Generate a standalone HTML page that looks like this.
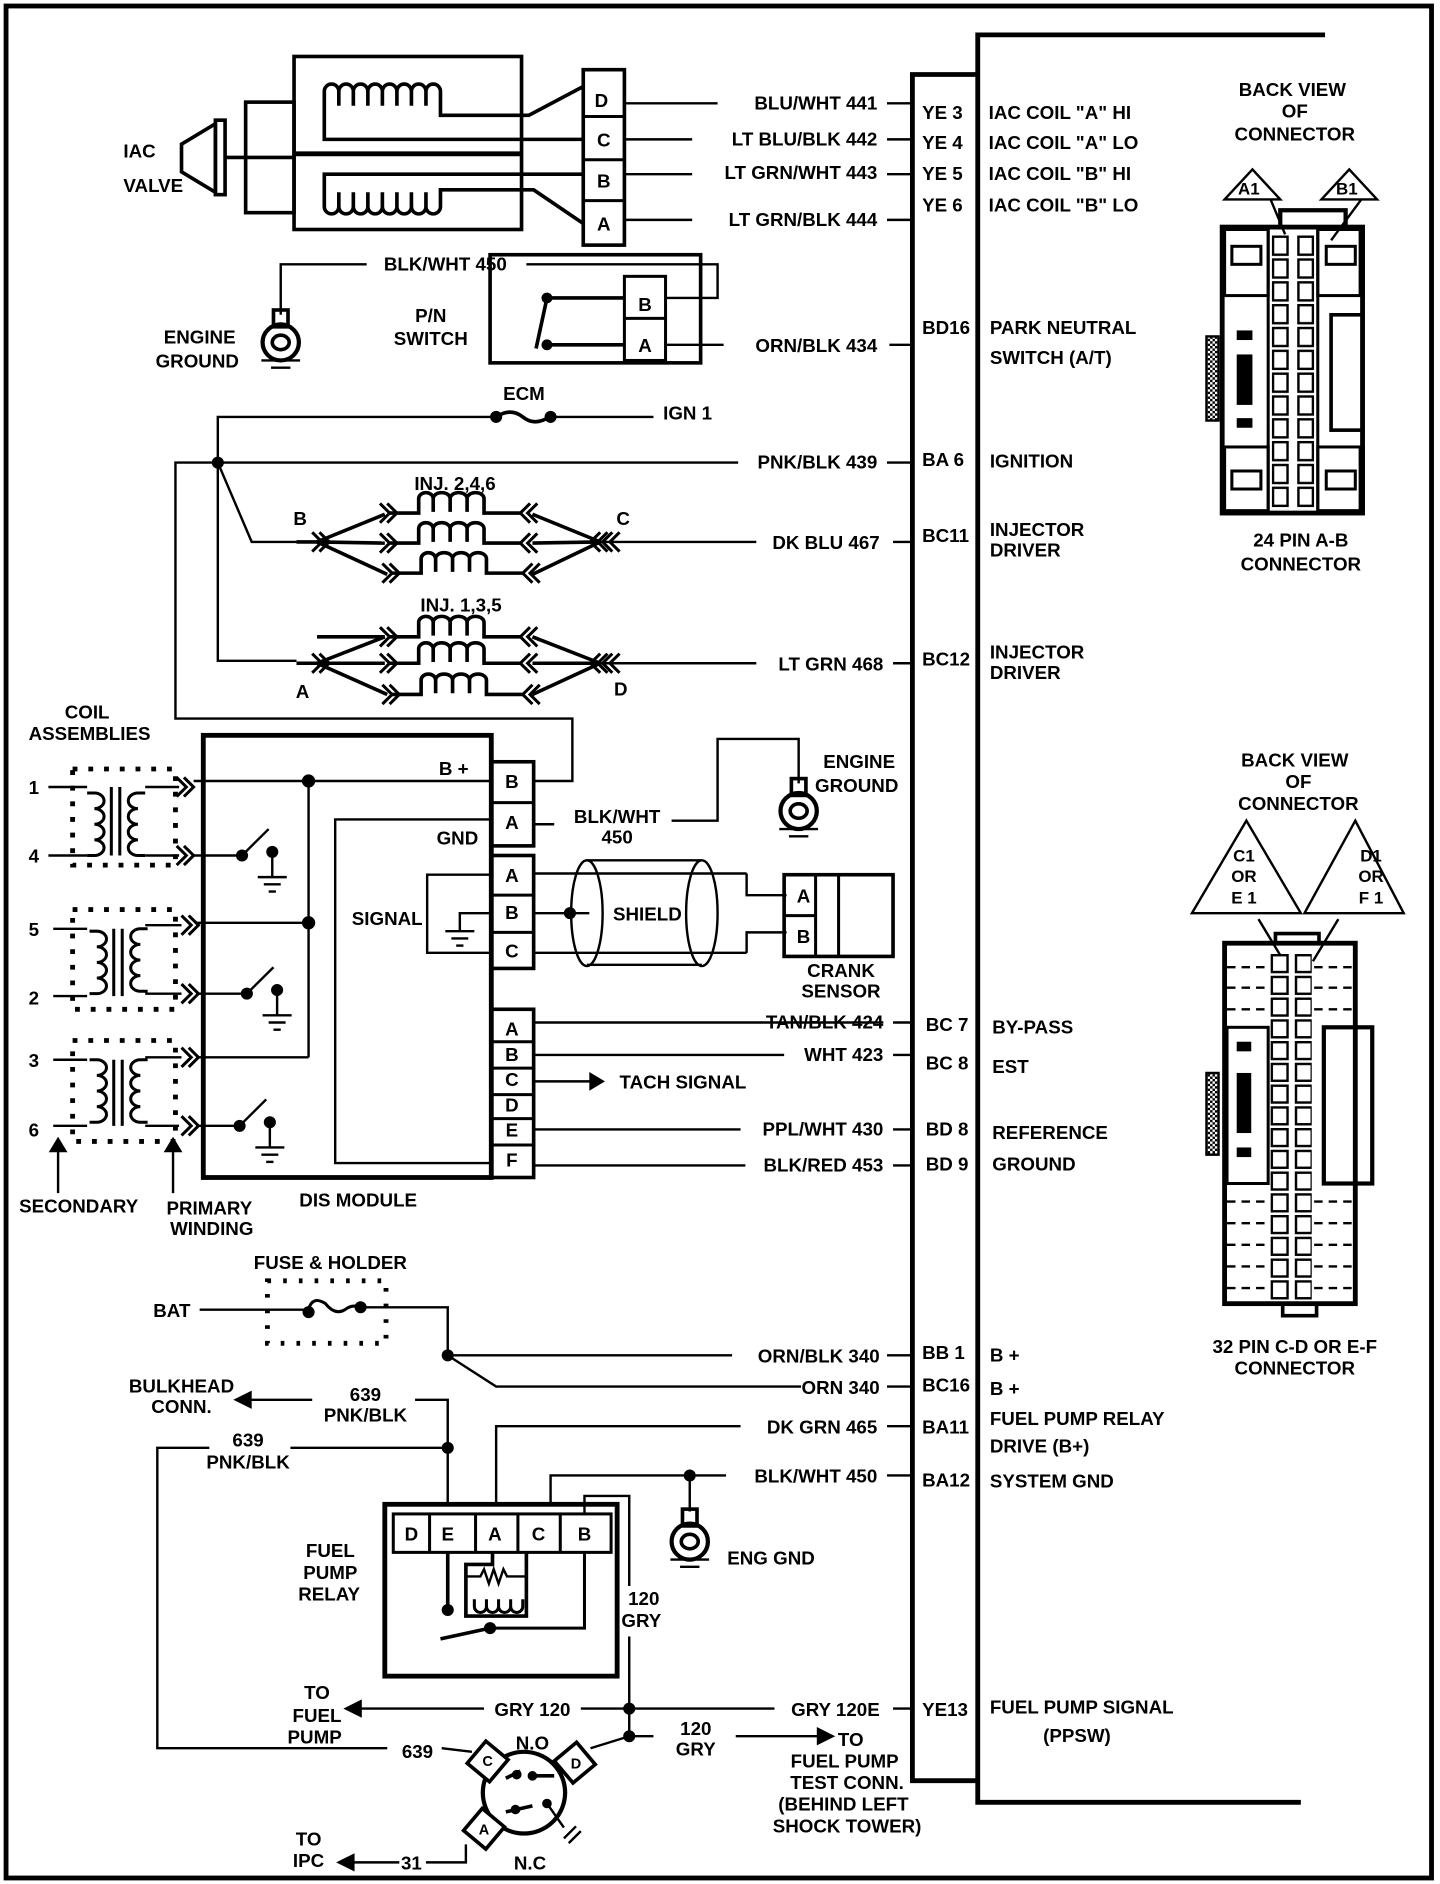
<!DOCTYPE html>
<html><head><meta charset="utf-8"><style>
html,body{margin:0;padding:0;background:#fff}
svg{display:block}
text{font-family:"Liberation Sans",sans-serif;font-weight:bold;font-size:15.5px;fill:#000}
.e{text-anchor:end}.m{text-anchor:middle}
</style></head><body>
<svg width="1440" height="1884" viewBox="0 0 1190 1568" preserveAspectRatio="none" xmlns="http://www.w3.org/2000/svg">
<defs>
<path id="vR" d="M0,0 h6 a8,6.5 0 0 1 0,13 a8,6.5 0 0 1 0,13 a8,6.5 0 0 1 0,13 a8,6.5 0 0 1 0,13 h-6" fill="none" stroke="#000" stroke-width="2.5"/>
<path id="vL" d="M0,0 h-6 a8,6.5 0 0 0 0,13 a8,6.5 0 0 0 0,13 a8,6.5 0 0 0 0,13 a8,6.5 0 0 0 0,13 h6" fill="none" stroke="#000" stroke-width="2.5"/>
<path id="inj" d="M0,0 h24 v-12 a6,5 0 0 1 12,0 v11 M36,-12 a7,5 0 0 1 14,0 v11 M50,-12 a7,5 0 0 1 14,0 v11 M64,-12 a7,5 0 0 1 14,0 v12 h30" fill="none" stroke="#000" stroke-width="3"/>
<path id="chR" d="M-8,-8 l8,8 l-8,8 M-2,-8 l8,8 l-8,8" fill="none" stroke="#000" stroke-width="2.5"/>
<path id="chL" d="M8,-8 l-8,8 l8,8 M2,-8 l-8,8 l8,8" fill="none" stroke="#000" stroke-width="2.5"/>
<g id="gnd" stroke="#000" stroke-width="2" fill="none"><line x1="-12" y1="0" x2="12" y2="0"/><line x1="-7" y1="6" x2="7" y2="6"/><line x1="-3" y1="12" x2="3" y2="12"/></g>
<g id="sw" stroke="#000" stroke-width="2" fill="none"><circle cx="0" cy="0" r="4" fill="#000"/><line x1="0" y1="0" x2="22" y2="-22"/><circle cx="25" cy="-3" r="4" fill="#000"/><line x1="25" y1="-3" x2="25" y2="18"/><use href="#gnd" x="25" y="18"/></g>
<g id="eg" stroke="#000" fill="none"><rect x="-6" y="-22" width="12" height="14" stroke-width="3"/><circle cx="0" cy="5" r="15" stroke-width="3.5"/><ellipse cx="0" cy="5" rx="7" ry="6" stroke-width="3"/><line x1="-16" y1="20" x2="16" y2="20" stroke-width="2"/><line x1="-8" y1="26" x2="8" y2="26" stroke-width="2"/></g>
<pattern id="p1" x="1051" y="196" width="21" height="19" patternUnits="userSpaceOnUse"><rect x="1" y="1" width="12" height="15" fill="#fff" stroke="#000" stroke-width="2"/></pattern>
<pattern id="p2" x="1050" y="794" width="20" height="18.1" patternUnits="userSpaceOnUse"><rect x="1" y="1" width="13" height="14" fill="#fff" stroke="#000" stroke-width="2"/></pattern>
<pattern id="hatch" width="4" height="4" patternUnits="userSpaceOnUse"><rect width="4" height="4" fill="#fff"/><rect width="2" height="2" fill="#000"/><rect x="2" y="2" width="2" height="2" fill="#000"/></pattern>
</defs>

<g fill="none" stroke="#000" stroke-width="2">
<rect x="5" y="5" width="1178" height="1558" stroke-width="4"/>
<polyline points="1095,29 808,29 808,1500 1075,1500" stroke-width="4"/>
<polyline points="808,62 754,62 754,1482 808,1482" stroke-width="4"/>

<!-- IAC valve -->
<polygon points="150,120 178,103 178,160 150,143" stroke-width="3"/>
<rect x="178" y="100" width="8" height="62" stroke-width="3"/>
<line x1="186" y1="131" x2="243" y2="131" stroke-width="3"/>
<rect x="203" y="85" width="40" height="92" stroke-width="3"/>
<rect x="243" y="47" width="188" height="144" stroke-width="3"/>
<line x1="243" y1="128" x2="431" y2="128" stroke-width="4"/>
<path d="M482,116 H268 V88 v-12 a6,6 0 0 1 12,0 v12 m0,-12 a6,6 0 0 1 12,0 v12 m0,-12 a6,6 0 0 1 12,0 v12 m0,-12 a6,6 0 0 1 12,0 v12 m0,-12 a6,6 0 0 1 12,0 v12 m0,-12 a6,6 0 0 1 12,0 v12 m0,-12 a6,6 0 0 1 12,0 v12 m0,-12 a6,6 0 0 1 12,0 v20 H437 L482,72" stroke-width="3"/>
<path d="M482,145 H268 V172 m0,-12 v12 a6,6 0 0 0 12,0 v-12 m0,12 a6,6 0 0 0 12,0 v-12 m0,12 a6,6 0 0 0 12,0 v-12 m0,12 a6,6 0 0 0 12,0 v-12 m0,12 a6,6 0 0 0 12,0 v-12 m0,12 a6,6 0 0 0 12,0 v-12 m0,12 a6,6 0 0 0 12,0 v-12 m0,12 a6,6 0 0 0 12,0 V158 H441 L482,186" stroke-width="3"/>
<rect x="482" y="58" width="34" height="146" stroke-width="3"/>
<line x1="482" y1="97" x2="516" y2="97" stroke-width="2.5"/>
<line x1="482" y1="133" x2="516" y2="133" stroke-width="2.5"/>
<line x1="482" y1="167" x2="516" y2="167" stroke-width="2.5"/>
<line x1="516" y1="86" x2="593" y2="86"/>
<line x1="516" y1="116" x2="572" y2="116"/>
<line x1="516" y1="145" x2="572" y2="145"/>
<line x1="516" y1="183" x2="572" y2="183"/>
<line x1="733" y1="86" x2="754" y2="86"/>
<line x1="733" y1="116" x2="754" y2="116"/>
<line x1="733" y1="145" x2="754" y2="145"/>
<line x1="733" y1="183" x2="754" y2="183"/>

<!-- P/N switch -->
<polyline points="232,262 232,220 303,220"/>
<polyline points="435,220 593,220 593,248 550,248"/>
<rect x="405" y="212" width="174" height="90" stroke-width="3"/>
<rect x="516" y="230" width="34" height="70" stroke-width="2.5"/>
<line x1="516" y1="265" x2="550" y2="265" stroke-width="2.5"/>
<line x1="452" y1="248" x2="516" y2="248" stroke-width="3"/>
<line x1="452" y1="287" x2="516" y2="287" stroke-width="3"/>
<line x1="452" y1="248" x2="443" y2="290" stroke-width="3"/>
<circle cx="452" cy="248" r="3.5" fill="#000"/>
<circle cx="452" cy="287" r="3.5" fill="#000"/>
<line x1="550" y1="287" x2="598" y2="287"/>
<line x1="735" y1="287" x2="754" y2="287"/>

<!-- ECM fuse & ignition -->
<polyline points="410,347 180,347 180,550 245,550"/>
<path d="M410,347 q12,-8 22,0 t22,0" stroke-width="3"/>
<circle cx="410" cy="347" r="4" fill="#000"/><circle cx="455" cy="347" r="4" fill="#000"/>
<line x1="455" y1="347" x2="540" y2="347"/>
<line x1="180" y1="385" x2="610" y2="385"/>
<line x1="733" y1="385" x2="754" y2="385"/>
<circle cx="180" cy="385" r="4" fill="#000"/>
<polyline points="180,385 208,451 245,451"/>
<polyline points="180,385 145,385 145,598 473,598 473,650 440,650"/>

<g stroke-width="3">
<line x1="262" y1="451" x2="318" y2="428"/><line x1="262" y1="451" x2="318" y2="452"/><line x1="262" y1="451" x2="320" y2="478"/>
<line x1="496" y1="451" x2="440" y2="428"/><line x1="496" y1="451" x2="440" y2="452"/><line x1="496" y1="451" x2="440" y2="478"/>
<line x1="262" y1="530" x2="318" y2="530"/>
<line x1="262" y1="552" x2="318" y2="530"/><line x1="262" y1="552" x2="318" y2="552"/><line x1="262" y1="552" x2="320" y2="578"/>
<line x1="496" y1="552" x2="440" y2="530"/><line x1="496" y1="552" x2="440" y2="552"/><line x1="496" y1="552" x2="440" y2="578"/>
</g>
<line x1="245" y1="451" x2="262" y2="451" stroke-width="3"/>
<line x1="245" y1="552" x2="262" y2="552" stroke-width="3"/>
<line x1="496" y1="451" x2="625" y2="451"/>
<line x1="496" y1="552" x2="625" y2="552"/>
<line x1="738" y1="451" x2="754" y2="451"/>
<line x1="738" y1="552" x2="754" y2="552"/>
</g>
<use href="#inj" x="322" y="427"/><use href="#inj" x="322" y="452"/><use href="#inj" x="324" y="477"/>
<use href="#inj" x="322" y="530"/><use href="#inj" x="322" y="552"/><use href="#inj" x="324" y="578"/>
<use href="#chR" x="322" y="427"/><use href="#chR" x="322" y="452"/><use href="#chR" x="324" y="477"/>
<use href="#chL" x="436" y="427"/><use href="#chL" x="436" y="452"/><use href="#chL" x="438" y="477"/>
<use href="#chR" x="322" y="530"/><use href="#chR" x="322" y="552"/><use href="#chR" x="324" y="578"/>
<use href="#chL" x="436" y="530"/><use href="#chL" x="436" y="552"/><use href="#chL" x="438" y="578"/>
<use href="#chR" x="266" y="451"/><use href="#chL" x="494" y="451"/><use href="#chL" x="504" y="451"/>
<use href="#chR" x="266" y="552"/><use href="#chL" x="494" y="552"/><use href="#chL" x="504" y="552"/>

<g fill="none" stroke="#000" stroke-width="2">
<g stroke-dasharray="4,9" stroke-width="4">
<rect x="60" y="640" width="85" height="80"/>
<rect x="60" y="757" width="85" height="83"/>
<rect x="60" y="866" width="85" height="84"/>
</g>
<line x1="40" y1="655" x2="72" y2="655"/><line x1="40" y1="712" x2="72" y2="712"/>
<line x1="44" y1="773" x2="72" y2="773"/><line x1="44" y1="829" x2="72" y2="829"/>
<line x1="44" y1="882" x2="72" y2="882"/><line x1="44" y1="937" x2="72" y2="937"/>
<g stroke-width="2.5">
<line x1="92" y1="655" x2="92" y2="712"/><line x1="99" y1="655" x2="99" y2="712"/>
<line x1="94" y1="773" x2="94" y2="829"/><line x1="101" y1="773" x2="101" y2="829"/>
<line x1="94" y1="882" x2="94" y2="937"/><line x1="101" y1="882" x2="101" y2="937"/>
</g>
<line x1="120" y1="655" x2="148" y2="655"/><line x1="120" y1="712" x2="148" y2="712"/>
<line x1="120" y1="770" x2="150" y2="770"/><line x1="120" y1="827" x2="150" y2="827"/>
<line x1="120" y1="880" x2="150" y2="880"/><line x1="120" y1="937" x2="148" y2="937"/>
</g>
<use href="#vR" x="72" y="660"/><use href="#vL" x="120" y="660"/>
<use href="#vR" x="74" y="775"/><use href="#vL" x="122" y="773"/>
<use href="#vR" x="74" y="882"/><use href="#vL" x="122" y="882"/>
<use href="#chR" x="154" y="655"/><use href="#chR" x="154" y="712"/>
<use href="#chR" x="158" y="770"/><use href="#chR" x="158" y="827"/>
<use href="#chR" x="158" y="880"/><use href="#chR" x="158" y="937"/>

<g fill="none" stroke="#000" stroke-width="2">
<line x1="48" y1="993" x2="48" y2="955"/><polygon points="42,958 48,948 54,958" fill="#000"/>
<line x1="143" y1="993" x2="143" y2="955"/><polygon points="137,958 143,948 149,958" fill="#000"/>

<rect x="168" y="612" width="238" height="368" stroke-width="4"/>
<line x1="160" y1="650" x2="406" y2="650"/>
<line x1="255" y1="650" x2="255" y2="880"/>
<circle cx="255" cy="650" r="4.5" fill="#000"/><circle cx="255" cy="768" r="4.5" fill="#000"/>
<line x1="162" y1="768" x2="255" y2="768"/>
<line x1="162" y1="880" x2="255" y2="880"/>
<line x1="160" y1="712" x2="200" y2="712"/>
<line x1="162" y1="827" x2="204" y2="827"/>
<line x1="162" y1="937" x2="198" y2="937"/>
<polyline points="406,682 277,682 277,968 406,968"/>
<polyline points="406,728 353,728 353,793 406,793"/>
<polyline points="406,760 380,760 380,775"/>
</g>
<use href="#sw" x="200" y="712"/><use href="#sw" x="204" y="827"/><use href="#sw" x="198" y="937"/>
<use href="#gnd" x="380" y="775"/>

<g fill="none" stroke="#000" stroke-width="2">
<rect x="406" y="634" width="35" height="70" stroke-width="3"/><line x1="406" y1="668" x2="441" y2="668" stroke-width="2.5"/>
<rect x="406" y="712" width="35" height="94" stroke-width="3"/><line x1="406" y1="745" x2="441" y2="745" stroke-width="2.5"/><line x1="406" y1="776" x2="441" y2="776" stroke-width="2.5"/>
<rect x="406" y="840" width="35" height="140" stroke-width="3"/>
<line x1="406" y1="867" x2="441" y2="867" stroke-width="2.5"/><line x1="406" y1="889" x2="441" y2="889" stroke-width="2.5"/><line x1="406" y1="911" x2="441" y2="911" stroke-width="2.5"/><line x1="406" y1="931" x2="441" y2="931" stroke-width="2.5"/><line x1="406" y1="953" x2="441" y2="953" stroke-width="2.5"/>
<line x1="441" y1="686" x2="458" y2="686"/>
<polyline points="555,683 593,683 593,615 660,615 660,652"/>
<line x1="441" y1="727" x2="617" y2="727"/>
<line x1="441" y1="793" x2="617" y2="793"/>
<polyline points="617,727 617,745 650,745"/>
<polyline points="617,793 617,776 650,776"/>
<line x1="441" y1="760" x2="487" y2="760"/>
<circle cx="471" cy="760" r="4" fill="#000"/>
<path d="M485,716 H580 M485,803 H580"/>
<ellipse cx="485" cy="760" rx="13" ry="44"/>
<ellipse cx="580" cy="760" rx="13" ry="44"/>
<rect x="648" y="728" width="90" height="68" stroke-width="3"/>
<line x1="674" y1="728" x2="674" y2="796" stroke-width="2.5"/>
<line x1="693" y1="728" x2="693" y2="796" stroke-width="2.5"/>
<line x1="648" y1="762" x2="674" y2="762" stroke-width="2.5"/>
<line x1="441" y1="851" x2="730" y2="851"/>
<line x1="441" y1="878" x2="648" y2="878"/>
<line x1="441" y1="900" x2="490" y2="900"/><polygon points="488,894 498,900 488,906" fill="#000"/>
<line x1="441" y1="940" x2="612" y2="940"/>
<line x1="441" y1="970" x2="616" y2="970"/>
<line x1="738" y1="851" x2="754" y2="851"/><line x1="738" y1="878" x2="754" y2="878"/>
<line x1="738" y1="940" x2="754" y2="940"/><line x1="738" y1="970" x2="754" y2="970"/>

<rect x="221" y="1066" width="98" height="52" stroke-dasharray="3,10" stroke-width="4"/>
<line x1="165" y1="1090" x2="255" y2="1090"/>
<path d="M255,1090 q3,-12 14,-5 q8,10 16,5 q8,-6 14,0" stroke-width="2.5"/>
<circle cx="255" cy="1092" r="4" fill="#000"/><circle cx="298" cy="1088" r="4" fill="#000"/>
<polyline points="298,1088 370,1088 370,1128 605,1128"/>
<circle cx="370" cy="1128" r="4" fill="#000"/>
<polyline points="370,1128 410,1154 662,1154"/>
<line x1="733" y1="1128" x2="754" y2="1128"/><line x1="733" y1="1154" x2="754" y2="1154"/>
<line x1="197" y1="1165" x2="258" y2="1165"/><polygon points="207,1159 195,1165 207,1171" fill="#000"/>
<polyline points="343,1165 370,1165 370,1252"/>
<polyline points="173,1205 130,1205 130,1455 320,1455"/>
<line x1="240" y1="1205" x2="370" y2="1205"/><circle cx="370" cy="1205" r="4" fill="#000"/>
<polyline points="410,1252 410,1187 612,1187"/>
<line x1="733" y1="1187" x2="754" y2="1187"/>
<polyline points="455,1252 455,1228 600,1228"/>
<circle cx="570" cy="1228" r="4" fill="#000"/>
<line x1="570" y1="1228" x2="570" y2="1258"/>
<line x1="733" y1="1228" x2="754" y2="1228"/>

<rect x="318" y="1252" width="192" height="143" stroke-width="4"/>
<rect x="325" y="1260" width="180" height="32" stroke-width="2.5"/>
<line x1="355" y1="1260" x2="355" y2="1292" stroke-width="2.5"/>
<line x1="393" y1="1260" x2="393" y2="1292" stroke-width="2.5"/>
<line x1="428" y1="1260" x2="428" y2="1292" stroke-width="2.5"/>
<line x1="463" y1="1260" x2="463" y2="1292" stroke-width="2.5"/>
<line x1="370" y1="1292" x2="370" y2="1340" stroke-width="3"/>
<circle cx="370" cy="1340" r="4" fill="#000"/>
<polyline points="407,1292 407,1302 385,1302 385,1345 435,1345 435,1292" stroke-width="3"/>
<path d="M385,1312 h12 l3,-6 l4,12 l4,-12 l4,12 l4,-12 l3,6 h16" stroke-width="2"/>
<path d="M392,1331 v6 a5,5 0 0 0 10,0 v-6 M402,1337 a5,5 0 0 0 10,0 v-6 M412,1337 a5,5 0 0 0 10,0 v-6 M422,1337 a5,5 0 0 0 10,0 v-6" stroke-width="2.5"/>
<polyline points="483,1292 483,1355 405,1355" stroke-width="2.5"/>
<line x1="405" y1="1355" x2="364" y2="1364" stroke-width="3"/>
<circle cx="405" cy="1355" r="4" fill="#000"/>
<polyline points="483,1260 483,1245 520,1245 520,1320"/>
<line x1="520" y1="1362" x2="520" y2="1445"/>
<circle cx="520" cy="1422" r="4" fill="#000"/><circle cx="520" cy="1445" r="4" fill="#000"/>
<line x1="520" y1="1422" x2="640" y2="1422"/>
<line x1="738" y1="1422" x2="754" y2="1422"/>
<line x1="520" y1="1422" x2="480" y2="1422"/>
<line x1="400" y1="1422" x2="290" y2="1422"/><polygon points="298,1416 286,1422 298,1428" fill="#000"/>
<line x1="520" y1="1445" x2="540" y2="1445"/>
<line x1="608" y1="1445" x2="682" y2="1445"/><polygon points="676,1439 688,1445 676,1451" fill="#000"/>
<line x1="520" y1="1445" x2="488" y2="1455"/>
<line x1="365" y1="1455" x2="390" y2="1458"/>
<circle cx="433" cy="1492" r="34" stroke-width="3.5"/>
<rect x="-12" y="-12" width="24" height="24" transform="translate(403,1466) rotate(40)" fill="#fff" stroke-width="3"/>
<rect x="-12" y="-12" width="24" height="24" transform="translate(475,1467) rotate(-40)" fill="#fff" stroke-width="3"/>
<rect x="-12" y="-12" width="24" height="24" transform="translate(400,1522) rotate(40)" fill="#fff" stroke-width="3"/>
<path d="M418,1480 l12,-6 M440,1478 h18 M418,1508 l22,-5" stroke-width="3"/>
<circle cx="427" cy="1477" r="3" fill="#000"/><circle cx="440" cy="1478" r="3" fill="#000"/>
<circle cx="426" cy="1506" r="3" fill="#000"/><circle cx="452" cy="1501" r="3" fill="#000"/>
<path d="M452,1501 l14,20 M466,1530 l10,-10 M470,1534 l10,-10" stroke-width="2"/>
<polyline points="352,1550 385,1550 385,1535"/>
<line x1="330" y1="1550" x2="285" y2="1550"/><polygon points="292,1544 280,1550 292,1556" fill="#000"/>

<polygon points="1035,141 1012,166 1058,166"/>
<polygon points="1115,141 1092,166 1138,166"/>
<line x1="1050" y1="166" x2="1062" y2="195"/><line x1="1125" y1="166" x2="1100" y2="200"/>
<rect x="1010" y="189" width="116" height="238" stroke-width="4"/>
<polyline points="1058,189 1058,175 1112,175 1112,189" stroke-width="3.5"/>
<rect x="1051" y="196" width="35" height="228" fill="url(#p1)" stroke="none"/>
<line x1="1048" y1="189" x2="1048" y2="427" stroke-width="2.5"/><line x1="1089" y1="189" x2="1089" y2="427" stroke-width="2.5"/>
<rect x="1012" y="191" width="36" height="55" stroke-width="2.5"/><rect x="1089" y="191" width="35" height="55" stroke-width="2.5"/>
<rect x="1012" y="372" width="36" height="53" stroke-width="2.5"/><rect x="1089" y="372" width="35" height="53" stroke-width="2.5"/>
<rect x="1018" y="205" width="24" height="15" stroke-width="2.5"/><rect x="1096" y="205" width="24" height="15" stroke-width="2.5"/>
<rect x="1018" y="392" width="24" height="15" stroke-width="2.5"/><rect x="1096" y="392" width="24" height="15" stroke-width="2.5"/>
<rect x="1100" y="262" width="26" height="96" stroke-width="3"/>
<rect x="997" y="280" width="10" height="70" fill="url(#hatch)" stroke-width="2"/>
<rect x="1022" y="275" width="13" height="8" fill="#000" stroke="none"/>
<rect x="1022" y="295" width="13" height="42" fill="#000" stroke="none"/>
<rect x="1022" y="348" width="13" height="8" fill="#000" stroke="none"/>

<polygon points="1030,683 985,760 1075,760"/>
<polygon points="1120,683 1078,760 1160,760"/>
<line x1="1040" y1="765" x2="1058" y2="795"/><line x1="1106" y1="765" x2="1085" y2="800"/>
<rect x="1012" y="785" width="108" height="300" stroke-width="4"/>
<polyline points="1054,785 1054,777 1090,777 1090,785" stroke-width="3"/>
<rect x="1050" y="794" width="34" height="290" fill="url(#p2)" stroke="none"/>
<rect x="1014" y="855" width="34" height="130" stroke-width="2.5"/>
<rect x="1094" y="855" width="40" height="130" stroke-width="3.5"/>
<rect x="997" y="893" width="10" height="68" fill="url(#hatch)" stroke-width="2"/>
<rect x="1022" y="867" width="12" height="8" fill="#000" stroke="none"/>
<rect x="1022" y="893" width="12" height="50" fill="#000" stroke="none"/>
<rect x="1022" y="955" width="12" height="8" fill="#000" stroke="none"/>
<g stroke-dasharray="7,5">
<line x1="1014" y1="805" x2="1048" y2="805"/><line x1="1014" y1="822" x2="1048" y2="822"/><line x1="1014" y1="840" x2="1048" y2="840"/>
<line x1="1086" y1="805" x2="1118" y2="805"/><line x1="1086" y1="822" x2="1118" y2="822"/><line x1="1086" y1="840" x2="1118" y2="840"/>
<line x1="1014" y1="1000" x2="1048" y2="1000"/><line x1="1014" y1="1018" x2="1048" y2="1018"/><line x1="1014" y1="1036" x2="1048" y2="1036"/><line x1="1014" y1="1054" x2="1048" y2="1054"/><line x1="1014" y1="1072" x2="1048" y2="1072"/>
<line x1="1086" y1="1000" x2="1118" y2="1000"/><line x1="1086" y1="1018" x2="1118" y2="1018"/><line x1="1086" y1="1036" x2="1118" y2="1036"/><line x1="1086" y1="1054" x2="1118" y2="1054"/><line x1="1086" y1="1072" x2="1118" y2="1072"/>
</g>
<polyline points="1060,1085 1060,1095 1088,1095 1088,1085" stroke-width="3"/>
</g>
<use href="#eg" x="232" y="280"/>
<use href="#eg" x="660" y="670"/>
<use href="#eg" x="570" y="1278"/>

<text x="102" y="131">IAC</text>
<text x="102" y="160">VALVE</text>
<text x="725" y="91" class="e">BLU/WHT  441</text>
<text x="725" y="121" class="e">LT BLU/BLK  442</text>
<text x="725" y="149" class="e">LT GRN/WHT 443</text>
<text x="725" y="188" class="e">LT GRN/BLK  444</text>
<text x="497" y="89" class="m">D</text><text x="499" y="122" class="m">C</text><text x="499" y="156" class="m">B</text><text x="499" y="192" class="m">A</text>
<text x="762" y="99">YE 3</text><text x="762" y="124">YE 4</text><text x="762" y="150">YE 5</text><text x="762" y="176">YE 6</text>
<text x="817" y="99">IAC COIL "A" HI</text><text x="817" y="124">IAC COIL "A" LO</text>
<text x="817" y="150">IAC COIL "B" HI</text><text x="817" y="176">IAC COIL "B" LO</text>
<text x="1068" y="80" class="m">BACK VIEW</text><text x="1070" y="98" class="m">OF</text><text x="1070" y="117" class="m">CONNECTOR</text>
<text x="1032" y="162" class="m" style="font-size:14px">A1</text><text x="1113" y="162" class="m" style="font-size:14px">B1</text>
<text x="1075" y="455" class="m">24 PIN  A-B</text><text x="1075" y="475" class="m">CONNECTOR</text>

<text x="368" y="225" class="m">BLK/WHT 450</text>
<text x="356" y="268" class="m">P/N</text><text x="356" y="287" class="m">SWITCH</text>
<text x="533" y="259" class="m">B</text><text x="533" y="293" class="m">A</text>
<text x="165" y="286" class="m">ENGINE</text><text x="163" y="306" class="m">GROUND</text>
<text x="725" y="293" class="e">ORN/BLK  434</text>
<text x="762" y="278">BD16</text>
<text x="818" y="278">PARK NEUTRAL</text><text x="818" y="303">SWITCH (A/T)</text>
<text x="433" y="333" class="m">ECM</text>
<text x="548" y="349">IGN 1</text>
<text x="725" y="390" class="e">PNK/BLK 439</text>
<text x="762" y="388">BA 6</text><text x="818" y="389">IGNITION</text>
<text x="376" y="408" class="m">INJ. 2,4,6</text>
<text x="248" y="437" class="m">B</text><text x="515" y="437" class="m">C</text>
<text x="727" y="457" class="e">DK BLU 467</text>
<text x="762" y="451">BC11</text><text x="818" y="446">INJECTOR</text><text x="818" y="463">DRIVER</text>
<text x="381" y="509" class="m">INJ. 1,3,5</text>
<text x="250" y="581" class="m">A</text><text x="513" y="579" class="m">D</text>
<text x="730" y="558" class="e">LT GRN 468</text>
<text x="762" y="554">BC12</text><text x="818" y="548">INJECTOR</text><text x="818" y="565">DRIVER</text>

<text x="72" y="598" class="m">COIL</text><text x="74" y="616" class="m">ASSEMBLIES</text>
<text x="28" y="661" class="m">1</text><text x="28" y="718" class="m">4</text>
<text x="28" y="779" class="m">5</text><text x="28" y="836" class="m">2</text>
<text x="28" y="888" class="m">3</text><text x="28" y="946" class="m">6</text>
<text x="65" y="1009" class="m">SECONDARY</text>
<text x="173" y="1011" class="m">PRIMARY</text><text x="175" y="1028" class="m">WINDING</text>
<text x="296" y="1004" class="m">DIS MODULE</text>
<text x="375" y="645" class="m">B +</text>
<text x="378" y="703" class="m">GND</text>
<text x="320" y="770" class="m">SIGNAL</text>
<g style="font-size:11px">
<text x="423" y="656" class="m">B</text><text x="423" y="690" class="m">A</text>
<text x="423" y="734" class="m">A</text><text x="423" y="765" class="m">B</text><text x="423" y="797" class="m">C</text>
<text x="423" y="862" class="m">A</text><text x="423" y="883" class="m">B</text><text x="423" y="904" class="m">C</text><text x="423" y="925" class="m">D</text><text x="423" y="946" class="m">E</text><text x="423" y="971" class="m">F</text>
</g>
<text x="510" y="685" class="m">BLK/WHT</text><text x="510" y="702" class="m">450</text>
<text x="710" y="639" class="m">ENGINE</text><text x="708" y="659" class="m">GROUND</text>
<text x="535" y="766" class="m">SHIELD</text>
<text x="664" y="751" class="m">A</text><text x="664" y="785" class="m">B</text>
<text x="695" y="813" class="m">CRANK</text><text x="695" y="830" class="m">SENSOR</text>
<text x="730" y="856" class="e">TAN/BLK 424</text>
<text x="730" y="883" class="e">WHT 423</text>
<text x="512" y="906">TACH SIGNAL</text>
<text x="730" y="945" class="e">PPL/WHT 430</text>
<text x="730" y="975" class="e">BLK/RED 453</text>
<text x="765" y="858">BC 7</text><text x="765" y="890">BC 8</text><text x="765" y="945">BD 8</text><text x="765" y="974">BD 9</text>
<text x="820" y="860">BY-PASS</text><text x="820" y="893">EST</text><text x="820" y="948">REFERENCE</text><text x="820" y="974">GROUND</text>
<text x="1070" y="638" class="m">BACK VIEW</text><text x="1073" y="656" class="m">OF</text><text x="1073" y="674" class="m">CONNECTOR</text>
<text x="1028" y="717" class="m" style="font-size:14px">C1</text><text x="1028" y="734" class="m" style="font-size:14px">OR</text><text x="1028" y="752" class="m" style="font-size:14px">E 1</text>
<text x="1133" y="717" class="m" style="font-size:14px">D1</text><text x="1133" y="734" class="m" style="font-size:14px">OR</text><text x="1133" y="752" class="m" style="font-size:14px">F 1</text>
<text x="1070" y="1126" class="m">32  PIN C-D OR E-F</text><text x="1070" y="1144" class="m">CONNECTOR</text>

<text x="273" y="1056" class="m">FUSE &amp; HOLDER</text>
<text x="142" y="1096" class="m">BAT</text>
<text x="727" y="1134" class="e">ORN/BLK 340</text>
<text x="727" y="1160" class="e">ORN  340</text>
<text x="762" y="1131">BB 1</text><text x="818" y="1133">B +</text>
<text x="762" y="1158">BC16</text><text x="818" y="1161">B +</text>
<text x="150" y="1159" class="m">BULKHEAD</text><text x="150" y="1176" class="m">CONN.</text>
<text x="302" y="1166" class="m">639</text><text x="302" y="1183" class="m">PNK/BLK</text>
<text x="205" y="1204" class="m">639</text><text x="205" y="1222" class="m">PNK/BLK</text>
<text x="725" y="1193" class="e">DK GRN 465</text>
<text x="762" y="1193">BA11</text><text x="818" y="1186">FUEL PUMP RELAY</text><text x="818" y="1209">DRIVE (B+)</text>
<text x="725" y="1234" class="e">BLK/WHT 450</text>
<text x="762" y="1237">BA12</text><text x="818" y="1238">SYSTEM GND</text>
<text x="340" y="1282" class="m">D</text><text x="370" y="1282" class="m">E</text><text x="409" y="1282" class="m">A</text><text x="445" y="1282" class="m">C</text><text x="483" y="1282" class="m">B</text>
<text x="273" y="1296" class="m">FUEL</text><text x="273" y="1314" class="m">PUMP</text><text x="272" y="1332" class="m">RELAY</text>
<text x="601" y="1302">ENG GND</text>
<text x="532" y="1336" class="m">120</text><text x="530" y="1354" class="m">GRY</text>
<text x="262" y="1414" class="m">TO</text><text x="262" y="1433" class="m">FUEL</text><text x="260" y="1451" class="m">PUMP</text>
<text x="440" y="1428" class="m">GRY 120</text>
<text x="727" y="1428" class="e">GRY 120E</text>
<text x="762" y="1428">YE13</text>
<text x="818" y="1426">FUEL PUMP SIGNAL</text><text x="862" y="1450">(PPSW)</text>
<text x="575" y="1444" class="m">120</text><text x="575" y="1461" class="m">GRY</text>
<text x="345" y="1463" class="m">639</text>
<text x="440" y="1456" class="m">N.O</text>
<text x="403" y="1470" class="m" style="font-size:12px">C</text>
<text x="476" y="1472" class="m" style="font-size:12px">D</text>
<text x="400" y="1527" class="m" style="font-size:12px">A</text>
<text x="438" y="1556" class="m">N.C</text>
<text x="703" y="1453" class="m">TO</text>
<text x="698" y="1471" class="m">FUEL PUMP</text><text x="700" y="1489" class="m">TEST CONN.</text><text x="697" y="1507" class="m">(BEHIND LEFT</text><text x="700" y="1525" class="m">SHOCK TOWER)</text>
<text x="255" y="1536" class="m">TO</text><text x="255" y="1554" class="m">IPC</text>
<text x="340" y="1556" class="m">31</text>
</svg>
</body></html>
